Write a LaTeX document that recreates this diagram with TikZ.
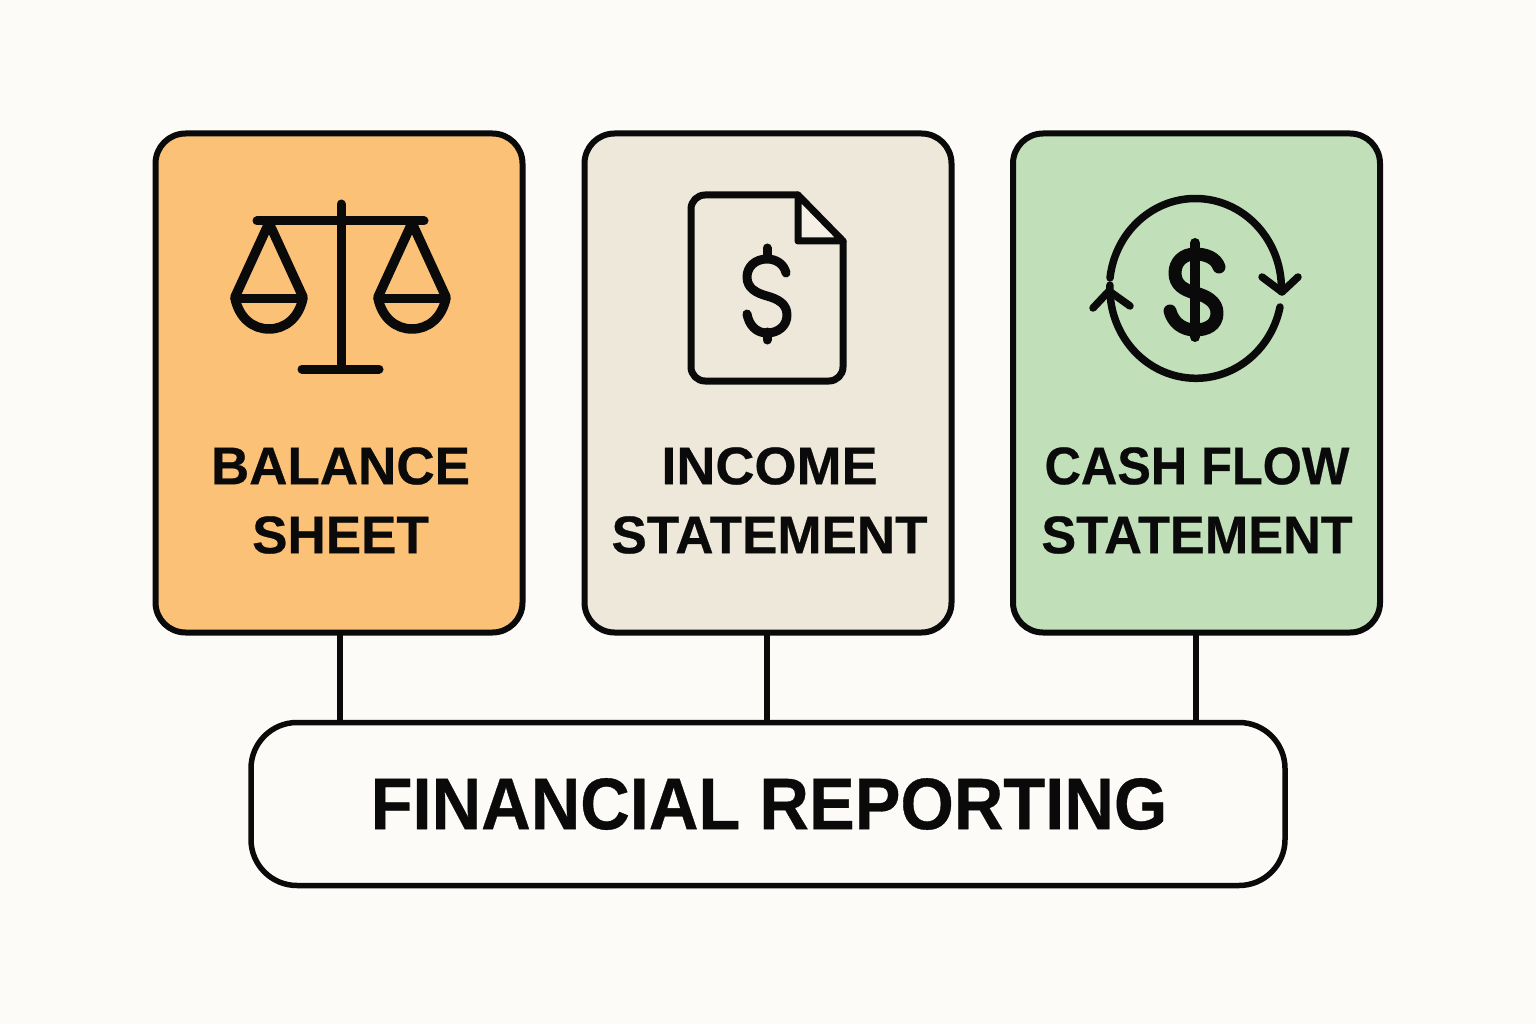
\documentclass[tikz,border=0pt]{standalone}
\usepackage{fontspec}
\usepackage{graphicx}
\setmainfont[BoldFeatures={FakeBold=0.5}]{Liberation Sans}
\definecolor{bgc}{HTML}{FDFBF8}
\definecolor{ink}{HTML}{0A0A0A}
\definecolor{orangec}{HTML}{FAC177}
\definecolor{beigec}{HTML}{EEE8DA}
\definecolor{foldc}{HTML}{F4F0E6}
\definecolor{greenc}{HTML}{C1E0B9}
\tikzset{
 card/.style={draw=ink,line width=6pt,rounded corners=30pt,minimum width=367pt,minimum height=499pt,inner sep=0pt,outer sep=0pt},
 rootbox/.style={draw=ink,line width=5.5pt,fill=bgc,rounded corners=46pt,minimum width=1034pt,minimum height=163pt,inner sep=0pt,outer sep=0pt},
 link/.style={draw=ink,line width=5.5pt},
 icon/.style={draw=ink,line width=9pt,line cap=round,line join=round},
 cardlabel/.style={font=\fontsize{53}{69}\selectfont\bfseries,text=ink,align=center,inner sep=0pt},
}
\begin{document}
\begin{tikzpicture}[x=1pt,y=-1pt]
\useasboundingbox (0,0) rectangle (1536,1024);
\fill[bgc] (0,0) rectangle (1536,1024);
% cards
\node[card,fill=orangec] (bs) at (339,383) {};
\node[card,fill=beigec] (is) at (768,383) {};
\node[card,fill=greenc] (cf) at (1196.5,383) {};
\node[rootbox] (fr) at (768,804) {};
\draw[link] (bs.south -| 340,0) -- (340,0 |- fr.north);
\draw[link] (is.south -| 767,0) -- (767,0 |- fr.north);
\draw[link] (cf.south -| 1196,0) -- (1196,0 |- fr.north);
% labels
\node[cardlabel] (bsl) at (340.5,500.5) {BALANCE\\SHEET};
\node[cardlabel] (isl) at (769.5,500.5) {\scalebox{1.02}[1]{INCOME}\\STATEMENT};
\node[cardlabel] (cfl) at (1197,500.5) {\scalebox{0.95}[1]{CASH FLOW}\\\scalebox{0.985}[1]{STATEMENT}};
\node[font=\fontsize{73}{73}\selectfont\bfseries,text=ink,inner sep=0pt] (frl) at (769,804) {\scalebox{0.94}[1]{FINANCIAL REPORTING}};
% scales
\draw[icon] (257,221) -- (424,221);
\draw[icon] (341,204) -- (341,369);
\draw[icon] (302,369) -- (379,369);
\foreach \cx in {269,412}{
  \draw[icon,line width=9.5pt] (\cx-34,297) -- (\cx,223) -- (\cx+34,297);
  \draw[icon] (\cx-34,298) -- (\cx+33,298);
  \draw[icon,line width=9.5pt] (\cx-34,298) .. controls (\cx-30,318) and (\cx-16,329) .. (\cx,329) .. controls (\cx+16,329) and (\cx+30,318) .. (\cx+34,298);
}
% document
\draw[icon,line width=7pt] (798,195) -- (705,195) arc[start angle=90,end angle=180,radius=14pt] -- (691,367) arc[start angle=180,end angle=270,radius=14pt] -- (829,381) arc[start angle=270,end angle=360,radius=14pt] -- (843,241);
\draw[icon,line width=7pt,fill=foldc] (798,195) -- (798,241) -- (843,241) -- cycle;
\draw[icon,line width=9pt] (767,248) -- (767,256);
\draw[icon,line width=9pt] (767,332) -- (767,340);
\draw[icon,line width=9pt] (786,273) .. controls (784,264) and (776,259) .. (767,259) .. controls (755,259) and (747,267) .. (747,277) .. controls (747,288) and (756,293) .. (767,296) .. controls (778,299) and (787,304) .. (787,315) .. controls (787,326) and (778,333) .. (767,333) .. controls (756,333) and (749,325) .. (747,314);
% cash cycle
\draw[icon,line width=7.5pt] (1110,278) arc[start angle=173.3,end angle=-2,x radius=86pt,y radius=90pt];
\draw[icon,line width=7.5pt] (1262,277) -- (1282,292) -- (1298,277);
\draw[icon,line width=7.5pt] (1280,307) arc[start angle=-12,end angle=-182,x radius=86pt,y radius=90pt];
\draw[icon,line width=7.5pt] (1093,308) -- (1109,291) -- (1130,306);
\draw[icon,line width=10pt] (1195,243) -- (1195,337);
\draw[icon,line width=13pt] (1219,267) .. controls (1216,258) and (1206,254) .. (1195,254) .. controls (1183,254) and (1175,262) .. (1175,273) .. controls (1175,285) and (1184,290) .. (1195,293) .. controls (1207,296) and (1217,302) .. (1217,313) .. controls (1217,325) and (1207,330) .. (1195,330) .. controls (1182,330) and (1173,322) .. (1170,311);
\end{tikzpicture}
\end{document}
